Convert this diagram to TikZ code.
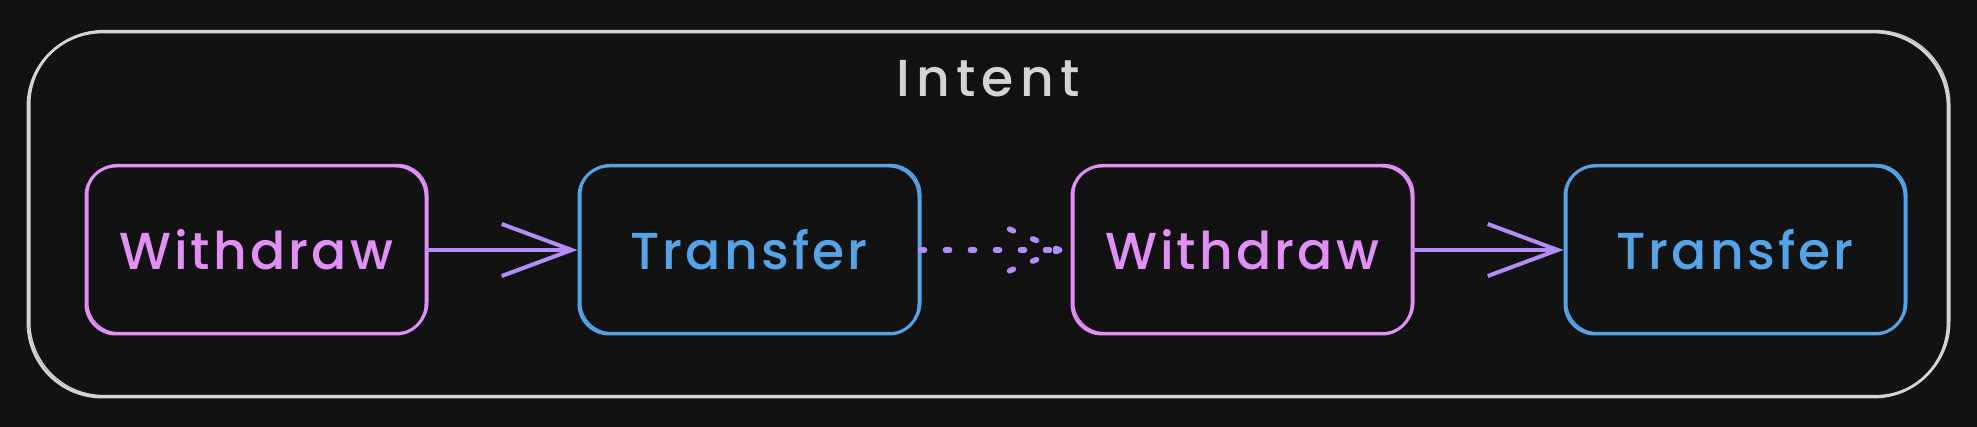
\documentclass[tikz,border=0pt]{standalone}
\usepackage{fontspec}
\setmainfont[LetterSpace=6, UprightFont={* Medium}]{Poppins}
\usetikzlibrary{positioning,arrows.meta,calc}

\definecolor{canvas}{HTML}{121212}
\definecolor{frameline}{HTML}{D4D4D4}
\definecolor{pinkline}{HTML}{E290F5}
\definecolor{blueline}{HTML}{56A4E8}
\definecolor{violetline}{HTML}{B48CF8}

\begin{document}
\begin{tikzpicture}[
    x=0.5pt, y=-0.5pt,
    % hand-drawn look: a thin second stroke, slightly off the first one
    sketch/.style={preaction={draw, line width=0.7pt, transform canvas={xshift=0.9pt, yshift=0.7pt}}},
    stepbox/.style={rectangle, draw, line width=1.5pt, rounded corners=15pt, sketch,
      minimum width=170pt, minimum height=84pt, font=\fontsize{26}{30}\selectfont},
    withdrawbox/.style={stepbox, draw=pinkline, text=pinkline},
    transferbox/.style={stepbox, draw=blueline, text=blueline},
    container/.style={rectangle, draw=frameline, line width=1.4pt, rounded corners=37pt, sketch,
      minimum width=960pt, minimum height=182.5pt},
    titletext/.style={text=frameline, font=\fontsize{26}{30}\selectfont\addfontfeatures{LetterSpace=12}},
    flow/.style={draw=violetline, line width=2pt, line cap=round,
      -{Straight Barb[length=35pt, width=26pt]}},
    dotflow/.style={draw=violetline, line width=2.8pt, line cap=round, dash pattern=on 2pt off 10.5pt}
  ]
    %--- Canvas
    \fill[canvas] (0,0) rectangle (1977,427);

    %--- Outer frame with its title
    \node[container] (intent) at (988,214.5) {};
    \node[titletext] (intentlabel) at ($(intent.north)+(0,48)$) {Intent};

    %--- Steps, left to right
    \node[withdrawbox] (withdrawA) at (256,250) {Withdraw};
    \node[transferbox, right=75pt of withdrawA] (transferA) {Transfer};
    \node[withdrawbox, right=75pt of transferA] (withdrawB) {Withdraw};
    \node[transferbox, right=75pt of withdrawB] (transferB) {Transfer};

    %--- Solid connectors
    \draw[flow] (withdrawA.east) -- (transferA.west);
    \draw[flow] (withdrawB.east) -- (transferB.west);

    %--- Dotted connector, barbs dotted as well
    \coordinate (dotTip) at ($(withdrawB.west)+(-11,0)$);
    \draw[dotflow] (transferA.east) -- (dotTip);
    \draw[dotflow] (dotTip) -- ++(-60,-25);
    \draw[dotflow] (dotTip) -- ++(-60,25);
  \end{tikzpicture}
\end{document}
